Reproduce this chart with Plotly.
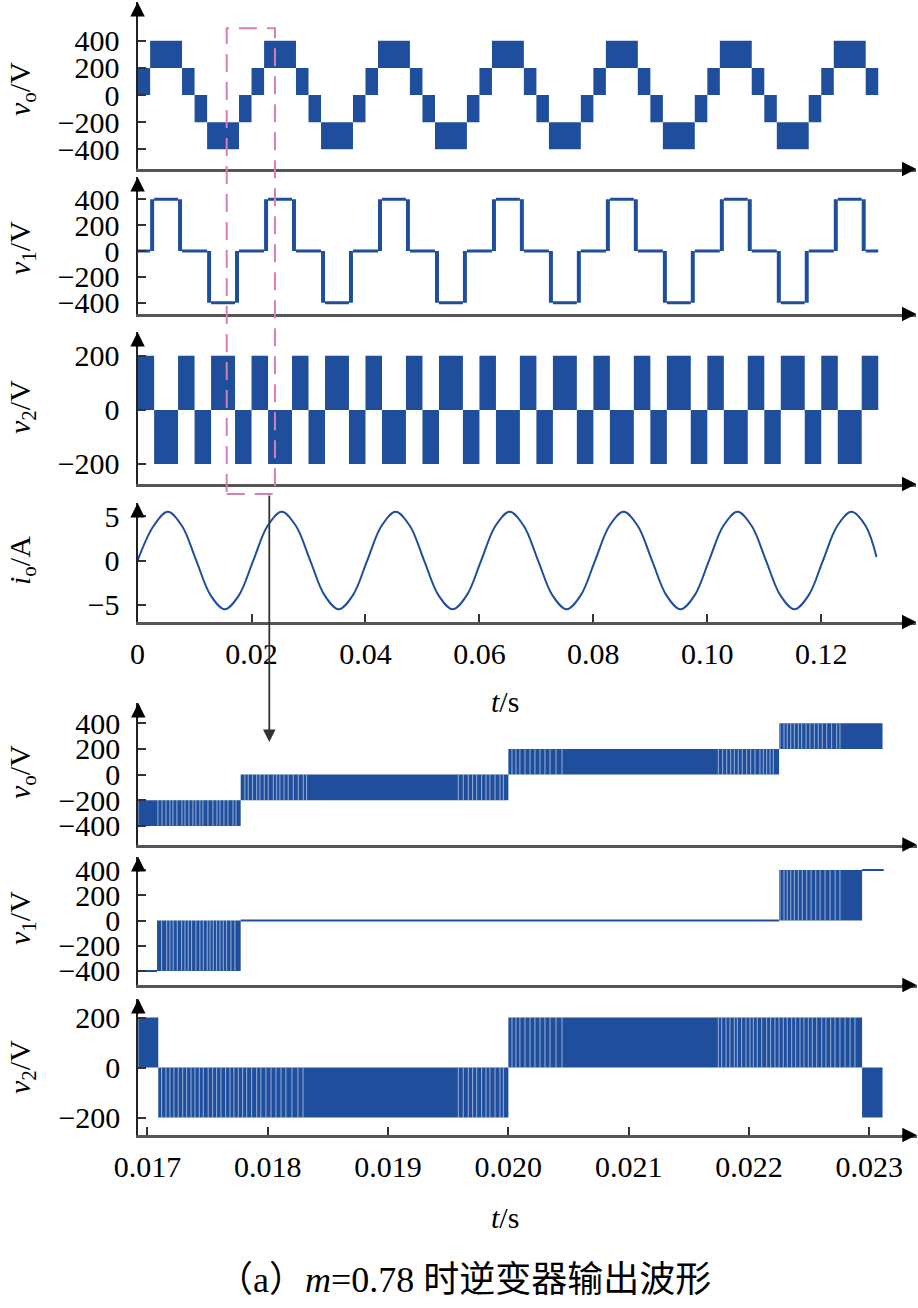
import plotly.graph_objects as go

W, H = 918, 1308
BLUE = "#1f4e9d"
GAP = "rgba(235,242,255,0.6)"
FONT = "Liberation Serif, Noto Sans CJK SC"

# ---------------- top view data (0 ~ 0.13 s) ----------------
VO_T = [0.0000, 0.0022, 0.0078, 0.0100, 0.0122, 0.0178,
        0.0200, 0.0222, 0.0278, 0.0300, 0.0322, 0.0378,
        0.0400, 0.0422, 0.0478, 0.0500, 0.0522, 0.0578,
        0.0600, 0.0622, 0.0678, 0.0700, 0.0722, 0.0778,
        0.0800, 0.0822, 0.0878, 0.0900, 0.0922, 0.0978,
        0.1000, 0.1022, 0.1078, 0.1100, 0.1122, 0.1178,
        0.1200, 0.1222, 0.1278, 0.1300]
VO_LO = [0, 200, 0, -200, -400, -200,
         0, 200, 0, -200, -400, -200,
         0, 200, 0, -200, -400, -200,
         0, 200, 0, -200, -400, -200,
         0, 200, 0, -200, -400, -200,
         0, 200, 0, -200, -400, -200,
         0, 200, 0]
VO_HI = [200, 400, 200, 0, -200, 0,
         200, 400, 200, 0, -200, 0,
         200, 400, 200, 0, -200, 0,
         200, 400, 200, 0, -200, 0,
         200, 400, 200, 0, -200, 0,
         200, 400, 200, 0, -200, 0,
         200, 400, 200]

V1_T = [0.0000,
        0.0022, 0.0029, 0.0071, 0.0078, 0.0122, 0.0129, 0.0171, 0.0178,
        0.0222, 0.0229, 0.0271, 0.0278, 0.0322, 0.0329, 0.0371, 0.0378,
        0.0422, 0.0429, 0.0471, 0.0478, 0.0522, 0.0529, 0.0571, 0.0578,
        0.0622, 0.0629, 0.0671, 0.0678, 0.0722, 0.0729, 0.0771, 0.0778,
        0.0822, 0.0829, 0.0871, 0.0878, 0.0922, 0.0929, 0.0971, 0.0978,
        0.1022, 0.1029, 0.1071, 0.1078, 0.1122, 0.1129, 0.1171, 0.1178,
        0.1222, 0.1229, 0.1271, 0.1278, 0.1300]
V1_LO = [0,
         0, 400, 0, 0, -400, -400, -400, 0,
         0, 400, 0, 0, -400, -400, -400, 0,
         0, 400, 0, 0, -400, -400, -400, 0,
         0, 400, 0, 0, -400, -400, -400, 0,
         0, 400, 0, 0, -400, -400, -400, 0,
         0, 400, 0, 0, -400, -400, -400, 0,
         0, 400, 0, 0]
V1_HI = [0,
         400, 400, 400, 0, 0, -400, 0, 0,
         400, 400, 400, 0, 0, -400, 0, 0,
         400, 400, 400, 0, 0, -400, 0, 0,
         400, 400, 400, 0, 0, -400, 0, 0,
         400, 400, 400, 0, 0, -400, 0, 0,
         400, 400, 400, 0, 0, -400, 0, 0,
         400, 400, 400, 0]

V2_T = [0.0000, 0.0029, 0.0071, 0.0100, 0.0129, 0.0171,
        0.0200, 0.0229, 0.0271, 0.0300, 0.0329, 0.0371,
        0.0400, 0.0429, 0.0471, 0.0500, 0.0529, 0.0571,
        0.0600, 0.0629, 0.0671, 0.0700, 0.0729, 0.0771,
        0.0800, 0.0829, 0.0871, 0.0900, 0.0929, 0.0971,
        0.1000, 0.1029, 0.1071, 0.1100, 0.1129, 0.1171,
        0.1200, 0.1229, 0.1271, 0.1300]
V2_LO = [0, -200, 0, -200, 0, -200,
         0, -200, 0, -200, 0, -200,
         0, -200, 0, -200, 0, -200,
         0, -200, 0, -200, 0, -200,
         0, -200, 0, -200, 0, -200,
         0, -200, 0, -200, 0, -200,
         0, -200, 0]
V2_HI = [200, 0, 200, 0, 200, 0,
         200, 0, 200, 0, 200, 0,
         200, 0, 200, 0, 200, 0,
         200, 0, 200, 0, 200, 0,
         200, 0, 200, 0, 200, 0,
         200, 0, 200, 0, 200, 0,
         200, 0, 200]

IO_T = [0.0000, 0.0028, 0.0053, 0.0078, 0.0103, 0.0128, 0.0153, 0.0178,
        0.0203, 0.0228, 0.0253, 0.0278, 0.0303, 0.0328, 0.0353, 0.0378,
        0.0403, 0.0428, 0.0453, 0.0478, 0.0503, 0.0528, 0.0553, 0.0578,
        0.0603, 0.0628, 0.0653, 0.0678, 0.0703, 0.0728, 0.0753, 0.0778,
        0.0803, 0.0828, 0.0853, 0.0878, 0.0903, 0.0928, 0.0953, 0.0978,
        0.1003, 0.1028, 0.1053, 0.1078, 0.1103, 0.1128, 0.1153, 0.1178,
        0.1203, 0.1228, 0.1253, 0.1278, 0.1297]
IO_V = [0, 3.9, 5.5, 3.9, 0, -3.9, -5.5, -3.9,
        0, 3.9, 5.5, 3.9, 0, -3.9, -5.5, -3.9,
        0, 3.9, 5.5, 3.9, 0, -3.9, -5.5, -3.9,
        0, 3.9, 5.5, 3.9, 0, -3.9, -5.5, -3.9,
        0, 3.9, 5.5, 3.9, 0, -3.9, -5.5, -3.9,
        0, 3.9, 5.5, 3.9, 0, -3.9, -5.5, -3.9,
        0, 3.9, 5.5, 3.9, 0.4]

# ---------------- zoomed view data (0.0169 ~ 0.0231 s) ----------------
ZVO_T = [0.01692, 0.017775, 0.02000, 0.02225, 0.02311]
ZVO_LO = [-400, -200, 0, 200]
ZVO_HI = [-200, 0, 200, 400]

ZV1_T = [0.01692, 0.01708, 0.017775, 0.02225, 0.02294, 0.02312]
ZV1_LO = [-400, -400, 0, 0, 400]
ZV1_HI = [-400, 0, 0, 400, 400]

ZV2_T = [0.01692, 0.01709, 0.02000, 0.02294, 0.02311]
ZV2_LO = [0, -200, 0, -200]
ZV2_HI = [200, 0, 200, 0]

# instants of the narrow PWM gaps that show as light stripes in the zoomed view
ZVO_GAPS = [0.017087, 0.017121, 0.017154, 0.017187, 0.017212, 0.017245, 0.017287,
            0.017312, 0.017345, 0.017378, 0.017403, 0.017436, 0.017461, 0.017503,
            0.017544, 0.017578, 0.017603, 0.017636, 0.017669, 0.017711, 0.017736,
            0.017810, 0.017838, 0.017874, 0.017908, 0.017935, 0.017971, 0.018004,
            0.018046, 0.018074, 0.018101, 0.018135, 0.018170, 0.018212, 0.018254,
            0.018295, 0.018323,
            0.019584, 0.019625, 0.019667, 0.019703, 0.019737, 0.019778, 0.019814,
            0.019847, 0.019889, 0.019930, 0.019958,
            0.020030, 0.020063, 0.020096, 0.020138, 0.020180, 0.020221, 0.020263,
            0.020304, 0.020346, 0.020396, 0.020446,
            0.021745, 0.021781, 0.021815, 0.021848, 0.021878, 0.021911, 0.021944,
            0.021981, 0.022014, 0.022050, 0.022091, 0.022119, 0.022147, 0.022175,
            0.022202,
            0.022258, 0.022291, 0.022318, 0.022347, 0.022377, 0.022410, 0.022438,
            0.022474, 0.022507, 0.022543, 0.022576, 0.022609, 0.022646, 0.022687,
            0.022729, 0.022756]
ZV1_GAPS = [0.017118, 0.017160, 0.017187, 0.017214, 0.017248, 0.017284, 0.017312,
            0.017339, 0.017367, 0.017403, 0.017436, 0.017464, 0.017497, 0.017520,
            0.017547, 0.017575, 0.017603, 0.017630, 0.017658, 0.017694, 0.017727,
            0.022258, 0.022291, 0.022318, 0.022347, 0.022377, 0.022410, 0.022443,
            0.022480, 0.022516, 0.022555, 0.022591, 0.022632, 0.022674, 0.022716,
            0.022756]
ZV2_GAPS = [0.017118, 0.017154, 0.017187, 0.017220, 0.017256, 0.017293, 0.017326,
            0.017362, 0.017395, 0.017431, 0.017464, 0.017505, 0.017542, 0.017575,
            0.017611, 0.017650, 0.017686, 0.017719, 0.017755, 0.017791, 0.017825,
            0.017866, 0.017908, 0.017943, 0.017985, 0.018027, 0.018068, 0.018110,
            0.018151, 0.018201, 0.018251, 0.018293,
            0.019584, 0.019625, 0.019667, 0.019703, 0.019737, 0.019778, 0.019814,
            0.019847, 0.019889, 0.019930, 0.019958,
            0.020030, 0.020063, 0.020096, 0.020138, 0.020180, 0.020221, 0.020263,
            0.020304, 0.020346, 0.020396, 0.020446,
            0.021745, 0.021773, 0.021809, 0.021842, 0.021878, 0.021903, 0.021939,
            0.021975, 0.022008, 0.022036, 0.022069, 0.022106, 0.022147, 0.022180,
            0.022216, 0.022250, 0.022285, 0.022318, 0.022355, 0.022388, 0.022424,
            0.022457, 0.022493, 0.022526, 0.022563, 0.022605, 0.022640, 0.022679,
            0.022715, 0.022756, 0.022798, 0.022840, 0.022881]

TOP_TICKS = [0, 0.02, 0.04, 0.06, 0.08, 0.10, 0.12]
TOP_TICKTEXT = ["0", "0.02", "0.04", "0.06", "0.08", "0.10", "0.12"]
BOT_TICKS = [0.017, 0.018, 0.019, 0.020, 0.021, 0.022, 0.023]
BOT_TICKTEXT = ["0.017", "0.018", "0.019", "0.020", "0.021", "0.022", "0.023"]
V400_TICKS = [-400, -200, 0, 200, 400]
V200_TICKS = [-200, 0, 200]
I_TICKS = [-5, 0, 5]

TITLES = ["<i>v</i><sub>o</sub>/V", "<i>v</i><sub>1</sub>/V", "<i>v</i><sub>2</sub>/V",
          "<i>i</i><sub>o</sub>/A",
          "<i>v</i><sub>o</sub>/V", "<i>v</i><sub>1</sub>/V", "<i>v</i><sub>2</sub>/V"]

# ---------------- layout geometry (pixels) ----------------
def py(p):
    return 1 - p / H

TOP_X = (137.6, 916.4, 0.0, 0.1367)
BOT_X = (138.3, 916.7, 0.016924, 0.023394)
# (bottom px, top px, ymin, ymax, ticks, title centre px, which x)
PANELS = [
    (169, 2, -546, 687, V400_TICKS, 89, TOP_X),
    (314, 177, -487, 572, V400_TICKS, 248, TOP_X),
    (484, 332, -274, 288, V200_TICKS, 407, TOP_X),
    (622, 503, -6.93, 6.5, I_TICKS, 561, TOP_X),
    (844.5, 703, -545, 558, V400_TICKS, 772, BOT_X),
    (985, 857, -512, 504, V400_TICKS, 918, BOT_X),
    (1135, 999, -270, 274, V200_TICKS, 1067, BOT_X),
]

fig = go.Figure()


def add_wave(n, ts, los, his, lw, gaps=None):
    xa, ya = f"x{n}", f"y{n}"
    cx, wd, base, hgt = [], [], [], []
    lx, ly = [], []
    for i in range(len(los)):
        t0, t1, lo, hi = ts[i], ts[i + 1], los[i], his[i]
        if lo != hi:
            cx.append((t0 + t1) / 2)
            wd.append(t1 - t0)
            base.append(lo)
            hgt.append(hi - lo)
            lx.append(None)
            ly.append(None)
        else:
            lx += [t0, t1]
            ly += [lo, lo]
    if cx:
        fig.add_trace(go.Bar(x=cx, y=hgt, base=base, width=wd, xaxis=xa, yaxis=ya,
                             marker=dict(color=BLUE, line=dict(width=0)), hoverinfo="skip"))
    if any(v is not None for v in lx):
        fig.add_trace(go.Scatter(x=lx, y=ly, mode="lines", xaxis=xa, yaxis=ya,
                                 line=dict(color=BLUE, width=lw), connectgaps=False,
                                 hoverinfo="skip"))
    if gaps:
        gx, gy = [], []
        for g in gaps:
            for i in range(len(los)):
                if ts[i] <= g < ts[i + 1] and los[i] != his[i]:
                    gx += [g, g, None]
                    gy += [los[i], his[i], None]
                    break
        fig.add_trace(go.Scatter(x=gx, y=gy, mode="lines", xaxis=xa, yaxis=ya,
                                 line=dict(color=GAP, width=1), hoverinfo="skip"))


add_wave(1, VO_T, VO_LO, VO_HI, 2)
add_wave(2, V1_T, V1_LO, V1_HI, 3)
add_wave(3, V2_T, V2_LO, V2_HI, 2)
fig.add_trace(go.Scatter(x=IO_T, y=IO_V, mode="lines", line_shape="spline",
                         xaxis="x4", yaxis="y4", line=dict(color=BLUE, width=2)))
add_wave(5, ZVO_T, ZVO_LO, ZVO_HI, 2, ZVO_GAPS)
add_wave(6, ZV1_T, ZV1_LO, ZV1_HI, 2, ZV1_GAPS)
add_wave(7, ZV2_T, ZV2_LO, ZV2_HI, 2, ZV2_GAPS)

layout = dict(width=W, height=H, margin=dict(l=0, r=0, t=0, b=0, pad=0, autoexpand=False),
              paper_bgcolor="white", plot_bgcolor="white", showlegend=False,
              barmode="overlay", font=dict(family=FONT, size=30, color="black"))
annotations = []
for i, (pb, pt, y0, y1, yt, tc, xd) in enumerate(PANELS):
    n = i + 1
    xl, xr, xa0, xa1 = xd
    show_x = n in (4, 7)
    xt = TOP_TICKS if xd is TOP_X else BOT_TICKS
    xtt = TOP_TICKTEXT if xd is TOP_X else BOT_TICKTEXT
    layout[f"xaxis{n}"] = dict(
        domain=[xl / W, xr / W], range=[xa0, xa1], anchor=f"y{n}", automargin=False,
        showline=True, linecolor="#555", linewidth=2.5, showgrid=False, zeroline=False,
        tickvals=xt if show_x else [], ticktext=xtt if show_x else [],
        showticklabels=show_x, ticks="inside" if show_x else "", ticklen=8,
        tickwidth=1.5, tickcolor="#333", ticklabelstandoff=3,
        tickfont=dict(family=FONT, size=30))
    layout[f"yaxis{n}"] = dict(
        domain=[py(pb), py(pt)], range=[y0, y1], anchor=f"x{n}", automargin=False,
        showline=True, linecolor="#222", linewidth=2, showgrid=False, zeroline=False,
        tickvals=yt, ticks="inside", ticklen=8, tickwidth=1.5, tickcolor="#333",
        ticklabelstandoff=10, tickfont=dict(family=FONT, size=30))
    annotations.append(dict(xref="paper", yref="paper", x=xl / W, y=py(pt), ax=0, ay=16,
                            showarrow=True, arrowhead=2, arrowsize=1.6, arrowwidth=1.8,
                            arrowcolor="black", text=""))
    annotations.append(dict(xref="paper", yref="paper", x=xr / W, y=py(pb), ax=-16, ay=0,
                            showarrow=True, arrowhead=2, arrowsize=1.6, arrowwidth=1.8,
                            arrowcolor="black", text=""))
    annotations.append(dict(xref="paper", yref="paper", x=22 / W, y=py(tc), text=TITLES[i],
                            textangle=-90, showarrow=False, xanchor="center", yanchor="middle",
                            font=dict(family=FONT, size=30)))

for yc in (701, 1217):
    annotations.append(dict(xref="paper", yref="paper", x=505 / W, y=py(yc),
                            text="<i>t</i>/s", showarrow=False, xanchor="center",
                            yanchor="middle", font=dict(family=FONT, size=30)))
annotations.append(dict(xref="paper", yref="paper", x=464 / W, y=py(1280),
                        text="（a）<i>m</i>=0.78 时逆变器输出波形", xanchor="center",
                        yanchor="middle", showarrow=False, font=dict(family=FONT, size=36)))
annotations.append(dict(xref="paper", yref="paper", x=269.3 / W, y=py(742), ax=0, ay=-248,
                        showarrow=True, arrowhead=2, arrowsize=1.4, arrowwidth=1.8,
                        arrowcolor="#333", text=""))
layout["annotations"] = annotations
layout["shapes"] = [dict(type="rect", xref="x", yref="paper", x0=0.01564, x1=0.02411,
                         y0=py(494), y1=py(28.3),
                         line=dict(color="#d67fb2", width=2, dash="18px,10px"))]
fig.update_layout(**layout)
fig.write_html("out.html", config={"displayModeBar": False},
               post_script="document.body.style.margin='0px';"
                           "document.body.style.overflow='hidden';")
